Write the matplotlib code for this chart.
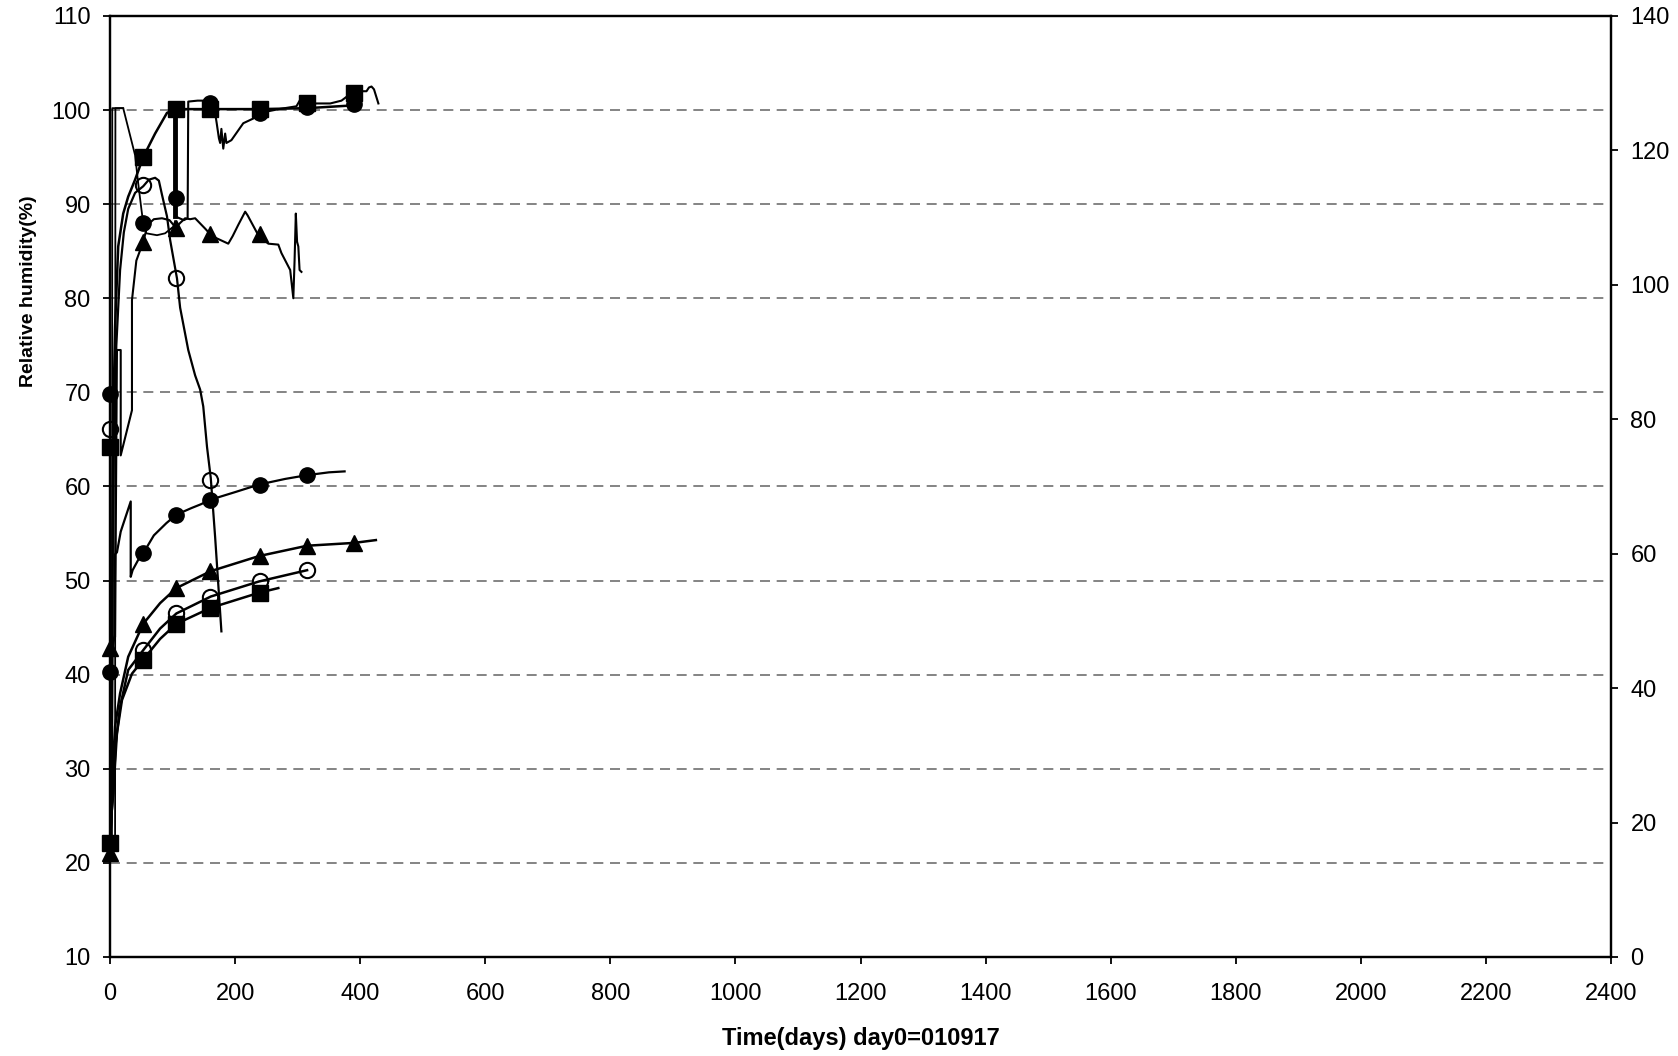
import matplotlib
matplotlib.use('Agg')
import matplotlib.pyplot as plt
from matplotlib import font_manager

plt.rcParams['font.family'] = ['Liberation Sans', 'DejaVu Sans']

# marker readings (days, RH %)
mark_days = [0, 52, 105, 160, 240, 315, 390]
sq_hi = [64.2, 95.0, 100.1, 100.1, 100.1, 100.8, 101.8]
ci_hi = [69.8, 88.0, 90.6, 100.8, 99.7, 100.3, 100.6]
oc_hi = [66.1, 92.0, 82.1, 60.7]
tr_hi = [42.8, 86.0, 87.5, 86.8, 86.8]
sq_lo = [22.1, 41.6, 45.4, 47.1, 48.7]
ci_lo = [40.3, 52.9, 57.0, 58.6, 60.2, 61.2]
oc_lo = [42.6, 46.5, 48.3, 49.9, 51.1]
tr_lo = [21.0, 45.4, 49.2, 51.0, 52.6, 53.7, 54.0]

# smooth upper curve (to the squares)
c_sq_hi_x = [0, 2, 3, 4, 5, 6, 8, 13, 21, 29, 40, 53, 72, 91, 106, 160, 240, 315, 390]
c_sq_hi_y = [22, 25, 35, 55, 65, 70.2, 77, 85.5, 89, 90.8, 92.6, 95, 97.5, 99.7, 100.1, 100.1, 100.1, 100.2, 100.5]

# upper open circle line (rise, hump, fall)
c_oc_hi_x = [0, 2, 3, 4.5, 6, 10, 16, 22, 29, 40, 53, 62, 72, 78, 83, 91, 96, 107, 112, 125, 136, 144, 149,
             155, 161, 168, 178]
c_oc_hi_y = [22, 25, 35, 55, 64, 75, 83, 87, 89.5, 91.2, 91.9, 92.6, 92.8, 92.5, 91, 88.7, 86.2, 82.1, 79, 74.5,
             71.8, 70.3, 68.5, 64.2, 60.9, 54.6, 44.6]

# plateau at 100 then drop into the loop
s_a_x = [0, 3, 3.5, 21, 40, 45, 50, 53, 58, 75, 88, 101, 104]
s_a_y = [22, 22.5, 100.2, 100.2, 95.2, 92.2, 89.5, 88, 86.9, 86.7, 86.9, 87.6, 88.2]

# second jump to 100
s_e_x = [0, 8, 8.5, 21]
s_e_y = [22, 22.5, 100.2, 100.2]

# thick drop at ~day 104, jump at ~day 125, noisy record near 100
s_b_x = [104, 104, 118, 124, 125, 140, 160, 166, 170.5, 174, 176, 178, 181, 184, 186, 194, 213, 229,
         240, 270, 298, 304, 310, 352, 370, 378, 389, 400, 410, 414, 418, 422, 429]
s_b_y = [100.2, 88.7, 88.3, 88.5, 100.9, 101, 101, 100.5, 98.6, 97, 96.5, 98, 95.9, 97.5, 96.5, 96.8, 98.6, 99.1,
         99.7, 100.1, 100.4, 101.1, 100.7, 100.7, 101, 101.4, 101.8, 102, 102, 102.4, 102.5, 102.2, 100.7]

# upper triangle record
s_c_x = [0, 8, 11, 17, 17, 35, 35, 42, 53, 60, 70, 83, 95, 105, 112, 120, 128, 136, 152, 163, 176, 189, 196,
         205, 216, 220, 237, 253, 269, 274, 288, 293, 295, 297, 299, 301, 303, 306]
s_c_y = [43, 44, 74.5, 74.5, 63.3, 68.1, 79.8, 84, 86, 87.8, 88.4, 88.5, 88.3, 87.5, 88, 88.5, 88.4, 88.5, 87.4,
         86.6, 86.2, 85.8, 86.6, 87.8, 89.2, 88.8, 86.7, 85.8, 85.7, 84.8, 83, 80, 84, 89, 86, 85.5, 83, 82.8]

# lower filled circle record
s_d_x = [0, 7, 8, 11, 17, 33, 33, 36, 45, 53, 70, 90, 106, 130, 145, 161, 200, 238, 280, 315, 350, 375]
s_d_y = [40.3, 44.2, 52.8, 53, 55.2, 58.4, 50.4, 51.1, 52.2, 52.9, 54.8, 56.1, 57.0, 57.7, 58.1, 58.6, 59.4,
         60.2, 60.8, 61.2, 61.5, 61.6]

# lower smooth curves
c_tr_lo_x = [0, 2, 5, 8, 16, 29, 53, 80, 106, 161, 238, 315, 390, 425]
c_tr_lo_y = [21, 26, 30.9, 34.5, 38, 41.9, 45.4, 47.6, 49.2, 51.0, 52.6, 53.7, 54.0, 54.3]
c_oc_lo_x = [0, 2, 5, 9, 16, 29, 53, 80, 106, 161, 238, 315]
c_oc_lo_y = [22, 25, 27.4, 32.7, 36.6, 40.5, 42.6, 44.9, 46.5, 48.3, 49.9, 51.1]
c_sq_lo_x = [0, 2, 5, 11, 19, 35, 53, 80, 106, 161, 238, 269]
c_sq_lo_y = [22.1, 25, 27.4, 33.8, 37.3, 40.1, 41.6, 43.8, 45.4, 47.1, 48.7, 49.2]

fig = plt.figure(figsize=(16.78, 10.56), dpi=100)
ax = fig.add_axes([0.0656, 0.0938, 0.8945, 0.8911])
ax2 = ax.twinx()

k = 'black'
ax.plot(c_sq_hi_x, c_sq_hi_y, color=k, lw=1.8)
ax.plot(c_oc_hi_x, c_oc_hi_y, color=k, lw=1.6)
ax.plot(s_a_x, s_a_y, color=k, lw=1.3)
ax.plot(s_e_x, s_e_y, color=k, lw=1.3)
ax.plot(s_b_x, s_b_y, color=k, lw=1.5)
ax.plot(s_b_x[:2], s_b_y[:2], color=k, lw=3.5)
ax.plot(s_c_x, s_c_y, color=k, lw=1.5)
ax.plot(s_d_x, s_d_y, color=k, lw=1.6)
ax.plot(c_tr_lo_x, c_tr_lo_y, color=k, lw=1.8)
ax.plot(c_oc_lo_x, c_oc_lo_y, color=k, lw=1.8)
ax.plot(c_sq_lo_x, c_sq_lo_y, color=k, lw=1.8)

ms = 11
mk = dict(color=k, ms=ms, ls='none', clip_on=False, zorder=5)
ok = dict(mfc='none', mec=k, mew=1.5, ms=ms, ls='none', clip_on=False, zorder=5)
ax.plot(mark_days, sq_hi, 's', **mk)
ax.plot(mark_days, ci_hi, 'o', **mk)
ax.plot(mark_days[:4], oc_hi, 'o', **ok)
ax.plot(mark_days[:5], tr_hi, '^', **mk)
ax.plot(mark_days[:5], sq_lo, 's', **mk)
ax.plot(mark_days[:6], ci_lo, 'o', **mk)
ax.plot(mark_days[1:6], oc_lo, 'o', **ok)
ax.plot(mark_days, tr_lo, '^', **mk)

ax.set_xlim(0, 2400)
ax.set_ylim(10, 110)
ax.set_xticks(range(0, 2401, 200))
ax.set_yticks(range(10, 111, 10))
ax2.set_ylim(0, 140)
ax2.set_yticks(range(0, 141, 20))

for y in range(20, 101, 10):
    ax.axhline(y, color='#707070', lw=1.2, ls=(0, (6, 4)), zorder=0)

for a in (ax, ax2):
    for s in a.spines.values():
        s.set_linewidth(1.6)
        s.set_color(k)
ax.tick_params(axis='both', direction='out', length=5, width=1.3, labelsize=17)
ax.tick_params(axis='x', pad=14)
ax.tick_params(axis='y', pad=9)
ax2.tick_params(axis='y', direction='out', length=5, width=1.3, labelsize=17, pad=9)

# narrow face for the y title, if it is there
names = {f.name for f in font_manager.fontManager.ttflist}
if 'Liberation Sans Narrow' in names:
    yfam, ysize = ['Liberation Sans Narrow', 'DejaVu Sans'], 16
else:
    yfam, ysize = ['Liberation Sans', 'DejaVu Sans'], 14

ax.set_xlabel('Time(days) day0=010917', fontsize=17, fontweight='bold')
ax.set_ylabel('Relative humidity(%)', fontsize=ysize, fontweight='bold', family=yfam)
ax.xaxis.set_label_coords(0.5, -0.074)
ax.yaxis.set_label_coords(-0.049, 0.708)

fig.savefig('out.png', dpi=100)
